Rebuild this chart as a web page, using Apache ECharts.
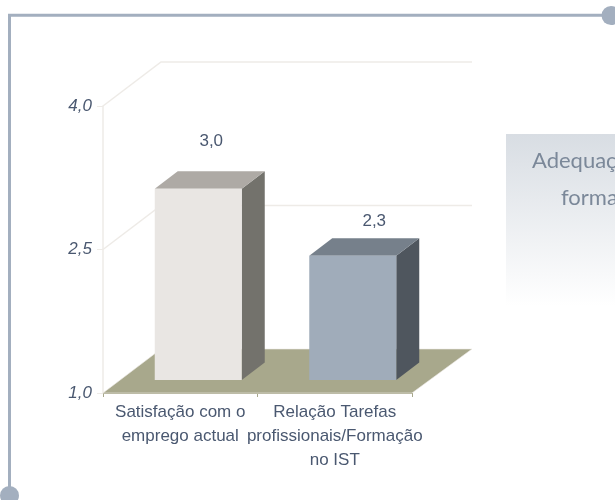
<!DOCTYPE html>
<html>
<head>
<meta charset="utf-8">
<style>html,body{margin:0;padding:0;background:#fff}#chart{width:615px;height:500px}</style>
<script src="https://cdn.jsdelivr.net/npm/echarts@6/dist/echarts.min.js"></script>
</head>
<body>
<div id="chart"></div>
<script>
// Chart data
const categories = ['Satisfação com o\nemprego actual', 'Relação Tarefas\nprofissionais/Formação\nno IST'];
const values = [3.0, 2.3];
const valueLabels = ['3,0', '2,3'];
const axisMin = 1.0;
const axisMax = 4.0;
const axisStep = 1.5;
const wallLevels = [1.0, 2.5, 4.0];

// Oblique projection of the box
const DEPTH_X = 58, DEPTH_Y = 44;
const BAR_LIFT_X = 18, BAR_LIFT_Y = 13;
const BAR_DEPTH_X = 23, BAR_DEPTH_Y = 17.5;
const BAR_WIDTH = 87;
const barColors = [
  { front: '#e9e6e3', top: '#aeaaa5', side: '#73726c' },
  { front: '#a0acba', top: '#76808b', side: '#4f565e' }
];
const labelOffsets = [[1.5, -30], [10, -17]];
const TEXT = '#4a5870', WALL = '#eeebe7', FLOOR = '#a8a88c', FRAME = '#a3afbf';

const chart = echarts.init(document.getElementById('chart'), null, { renderer: 'canvas' });

function renderWalls(params, api) {
  const level = api.value(1);
  const left = api.coord([0, level]);
  const right = params.coordSys.x + params.coordSys.width;
  const y = left[1];
  const x0 = params.coordSys.x;
  if (level === axisMin) {
    return {
      type: 'polygon',
      shape: { points: [[x0, y], [x0 + DEPTH_X, y - DEPTH_Y], [right + DEPTH_X + 2, y - DEPTH_Y], [right, y]] },
      style: { fill: FLOOR, stroke: WALL, lineWidth: 0.6 }
    };
  }
  return {
    type: 'polyline',
    shape: { points: [[x0, y], [x0 + DEPTH_X, y - DEPTH_Y], [right + DEPTH_X + 2, y - DEPTH_Y]] },
    style: { fill: null, stroke: WALL, lineWidth: 1.5 }
  };
}

function renderBar(params, api) {
  const i = api.value(0);
  const base = api.coord([i, axisMin]);
  const head = api.coord([i, api.value(1)]);
  const c = barColors[i];
  const l = base[0] + BAR_LIFT_X - BAR_WIDTH / 2;
  const r = l + BAR_WIDTH;
  const b = base[1] - BAR_LIFT_Y;
  const t = head[1] - BAR_LIFT_Y;
  const dx = BAR_DEPTH_X, dy = BAR_DEPTH_Y;
  const off = labelOffsets[i];
  return {
    type: 'group',
    children: [
      { type: 'polygon', shape: { points: [[r, t], [r + dx, t - dy], [r + dx, b - dy], [r, b]] }, style: { fill: c.side } },
      { type: 'polygon', shape: { points: [[l, t], [l + dx, t - dy], [r + dx, t - dy], [r, t]] }, style: { fill: c.top } },
      { type: 'rect', shape: { x: l, y: t, width: BAR_WIDTH, height: b - t }, style: { fill: c.front } },
      { type: 'text', x: (l + r + dx) / 2 + off[0], y: t - dy + off[1],
        style: { text: valueLabels[i], fill: TEXT, font: '17px "Liberation Sans"', align: 'center', verticalAlign: 'middle' } }
    ]
  };
}

chart.setOption({
  animation: false,
  backgroundColor: '#ffffff',
  grid: { left: 103, top: 106, width: 309, height: 287, containLabel: false },
  xAxis: {
    type: 'category',
    data: categories,
    axisLine: { show: true, lineStyle: { color: FLOOR, width: 1 } },
    axisTick: { show: true, length: 4, lineStyle: { color: FLOOR } },
    axisLabel: { interval: 0, color: TEXT, fontFamily: 'Liberation Sans', fontSize: 17, lineHeight: 24, margin: 7 },
    splitLine: { show: false }
  },
  yAxis: {
    type: 'value',
    min: axisMin, max: axisMax, interval: axisStep,
    axisLine: { show: true, lineStyle: { color: WALL, width: 1.5 } },
    axisTick: { show: true, length: 6, lineStyle: { color: WALL } },
    axisLabel: {
      color: TEXT, fontFamily: 'Liberation Sans', fontSize: 17, fontStyle: 'italic', margin: 11,
      formatter: v => v.toFixed(1).replace('.', ',')
    },
    splitLine: { show: false }
  },
  series: [
    { type: 'custom', coordinateSystem: 'cartesian2d', z: 1, silent: true, clip: false,
      data: wallLevels.map(v => [0, v]), renderItem: renderWalls, encode: { x: 0, y: 1 } },
    { type: 'custom', coordinateSystem: 'cartesian2d', z: 3, silent: true, clip: false,
      data: values.map((v, i) => [i, v]), renderItem: renderBar, encode: { x: 0, y: 1 } }
  ],
  graphic: [
    // Panel at the right edge
    { type: 'rect', z: 0, shape: { x: 506, y: 134, width: 109, height: 172 },
      style: { fill: new echarts.graphic.LinearGradient(0, 0, 0, 1, [
        { offset: 0, color: '#d8dde3' }, { offset: 1, color: '#ffffff' }]) } },
    { type: 'text', z: 1, x: 532, y: 161, style: { text: 'Adequação da', fill: '#7b8899', font: '22px Lato', verticalAlign: 'middle' } },
    { type: 'text', z: 1, x: 561, y: 198, style: { text: 'formação', fill: '#7b8899', font: '22px Lato', verticalAlign: 'middle' } },
    // Page frame with its two end dots
    { type: 'polyline', z: 0, shape: { points: [[604, 15.3], [9.5, 15.3], [9.5, 490]] },
      style: { fill: null, stroke: FRAME, lineWidth: 3 } },
    { type: 'circle', z: 0, shape: { cx: 611, cy: 15.5, r: 9.5 }, style: { fill: FRAME } },
    { type: 'circle', z: 0, shape: { cx: 9.5, cy: 495.5, r: 9.5 }, style: { fill: FRAME } }
  ]
});
</script>
</body>
</html>
